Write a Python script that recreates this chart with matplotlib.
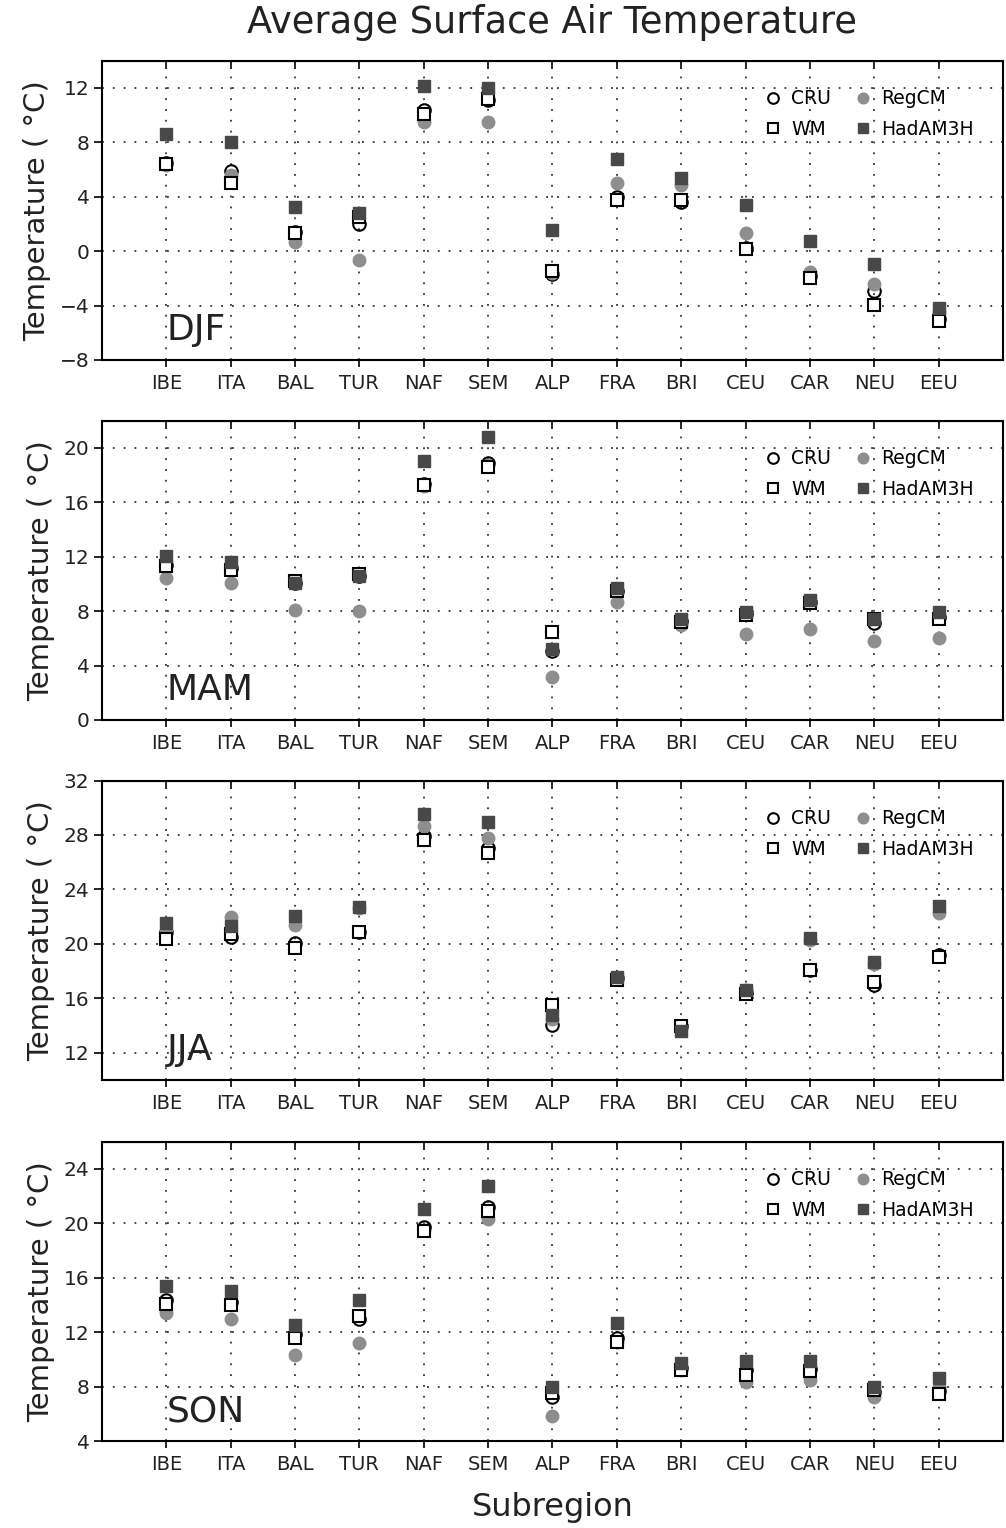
import matplotlib
matplotlib.use("Agg")
import matplotlib.pyplot as plt

plt.rcParams['font.family'] = ['DejaVu Sans']

regions = ["IBE", "ITA", "BAL", "TUR", "NAF", "SEM", "ALP", "FRA", "BRI", "CEU", "CAR", "NEU", "EEU"]
seasons = ["DJF", "MAM", "JJA", "SON"]

# DJF
djf_cru = [6.5, 5.9, 1.4, 2.0, 10.4, 11.1, -1.7, 4.0, 3.6, 0.25, -1.8, -2.9, -5.0]
djf_regcm = [6.3, 5.6, 0.7, -0.65, 9.5, 9.45, -1.6, 5.0, 4.85, 1.35, -1.5, -2.4, -4.5]
djf_wm = [6.4, 5.0, 1.3, 2.5, 10.1, 11.15, -1.45, 3.75, 3.75, 0.15, -1.95, -3.95, -5.1]
djf_had = [8.6, 8.0, 3.25, 2.8, 12.1, 11.95, 1.55, 6.75, 5.4, 3.4, 0.75, -0.95, -4.15]

# MAM
mam_cru = [11.4, 11.2, 10.1, 10.6, 17.3, 18.9, 5.1, 9.5, 7.3, 7.8, 8.7, 7.15, 7.6]
mam_regcm = [10.4, 10.05, 8.05, 8.0, 17.2, 18.7, 3.15, 8.65, 7.0, 6.3, 6.65, 5.8, 6.0]
mam_wm = [11.3, 11.0, 10.2, 10.7, 17.25, 18.6, 6.5, 9.45, 7.2, 7.7, 8.6, 7.4, 7.4]
mam_had = [12.05, 11.6, 10.05, 10.6, 19.05, 20.8, 5.2, 9.7, 7.4, 7.9, 8.8, 7.45, 7.9]

# JJA
jja_cru = [20.9, 20.5, 20.05, 20.9, 27.9, 27.05, 14.05, 17.5, 13.95, 16.4, 18.1, 17.0, 19.2]
jja_regcm = [20.9, 21.95, 21.4, 22.6, 28.65, 27.8, 14.5, 17.5, 13.8, 16.6, 20.3, 18.5, 22.3]
jja_wm = [20.35, 20.75, 19.7, 20.9, 27.6, 26.7, 15.5, 17.35, 13.95, 16.35, 18.05, 17.2, 19.0]
jja_had = [21.55, 21.3, 22.05, 22.7, 29.55, 28.95, 14.8, 17.6, 13.6, 16.6, 20.4, 18.65, 22.75]

# SON
son_cru = [14.35, 14.25, 11.9, 13.0, 19.7, 21.2, 7.25, 11.55, 9.4, 9.2, 9.3, 7.6, 7.7]
son_regcm = [13.4, 12.95, 10.3, 11.2, 19.5, 20.3, 5.85, 11.3, 9.2, 8.35, 8.45, 7.25, 8.0]
son_wm = [14.05, 14.0, 11.6, 13.2, 19.45, 20.9, 7.5, 11.25, 9.25, 8.85, 9.15, 7.75, 7.45]
son_had = [15.4, 15.0, 12.55, 14.35, 21.05, 22.7, 7.95, 12.65, 9.75, 9.85, 9.9, 8.0, 8.6]

ylims = [(-8, 14), (0, 22), (10, 32), (4, 26)]
yticks = [[-8, -4, 0, 4, 8, 12], [0, 4, 8, 12, 16, 20], [12, 16, 20, 24, 28, 32], [4, 8, 12, 16, 20, 24]]
data = [
    (djf_cru, djf_regcm, djf_wm, djf_had),
    (mam_cru, mam_regcm, mam_wm, mam_had),
    (jja_cru, jja_regcm, jja_wm, jja_had),
    (son_cru, son_regcm, son_wm, son_had),
]

GREY = "#8e8e8e"
DARK = "#484848"
TXT = "#222222"

fig = plt.figure(figsize=(10.06, 15.28), dpi=100)
bottoms = [0.7644, 0.5288, 0.2932, 0.0569]
left, width, height = 0.1014, 0.8956, 0.196
x = list(range(1, len(regions) + 1))

for i, s in enumerate(seasons):
    ax = fig.add_axes([left, bottoms[i], width, height])
    cru, reg, wm, had = data[i]
    ax.set_xlim(0, 14)
    ax.set_ylim(*ylims[i])
    ax.set_yticks(yticks[i])
    ax.set_xticks(x)
    ax.set_xticklabels(regions)
    ax.grid(True, color="#333333", linestyle=(0, (1, 5)), linewidth=1.3)
    ax.set_axisbelow(True)
    h1, = ax.plot(x, cru, linestyle='none', marker='o', markersize=9, markerfacecolor='none',
                  markeredgecolor='black', markeredgewidth=1.5, zorder=3, label='CRU')
    h2, = ax.plot(x, reg, linestyle='none', marker='o', markersize=9, markerfacecolor=GREY,
                  markeredgecolor=GREY, zorder=4, label='RegCM')
    h3, = ax.plot(x, wm, linestyle='none', marker='s', markersize=9, markerfacecolor='white',
                  markeredgecolor='black', markeredgewidth=1.5, zorder=5, label='WM')
    h4, = ax.plot(x, had, linestyle='none', marker='s', markersize=9, markerfacecolor=DARK,
                  markeredgecolor=DARK, zorder=6, label='HadAM3H')
    for sp in ax.spines.values():
        sp.set_linewidth(1.5)
    ax.tick_params(axis='y', direction='out', length=6, width=1.2, labelsize=14.5, pad=3,
                   labelcolor=TXT)
    ax.tick_params(axis='x', direction='out', length=5, width=1.2, labelsize=14, pad=5,
                   labelcolor=TXT)
    sec = ax.secondary_xaxis('top')
    sec.set_xticks(x)
    sec.set_xticklabels([])
    sec.tick_params(direction='in', length=6, width=1.2)
    ax.set_ylabel("Temperature ( °C)", fontsize=21, labelpad=6, color=TXT)
    ax.text(0.072, 0.10, s, transform=ax.transAxes, fontsize=26, ha='left', va='center',
            color=TXT)
    ax.legend(handles=[h1, h3, h2, h4], ncol=2, frameon=False, loc='upper left',
              bbox_to_anchor=(0.718, 0.96), fontsize=13.5, markerscale=0.85,
              handlelength=0.8, handletextpad=0.55, columnspacing=1.3, labelspacing=0.6)

fig.text(0.549, 0.9853, "Average Surface Air Temperature", fontsize=26.5, ha='center',
         va='center', color=TXT)
fig.text(0.55, 0.0131, "Subregion", fontsize=23, ha='center', va='center', color=TXT)
fig.savefig("out.png", dpi=100)
